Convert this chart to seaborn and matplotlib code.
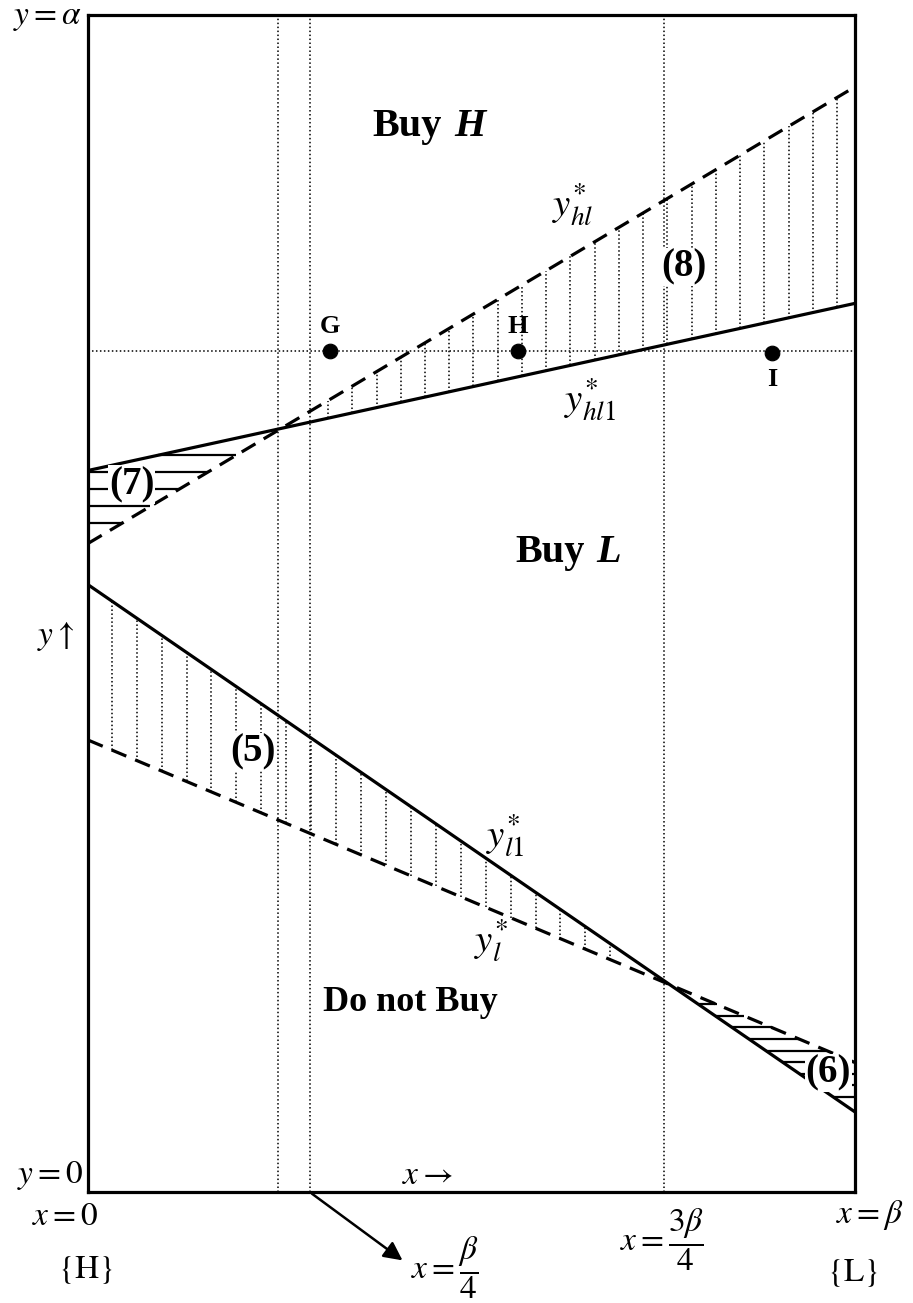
import numpy as np
import pandas as pd
import matplotlib
matplotlib.use("Agg")
import matplotlib.pyplot as plt
import seaborn as sns

# Boundary lines, given by their values at x = 0 and x = beta (unit scale)
x_ends = [0.0, 1.0]
y_hl_star = [0.551, 0.939]    # dashed, rising
y_hl1_star = [0.613, 0.755]   # solid, rising
y_l1_star = [0.516, 0.068]    # solid, falling
y_l_star = [0.384, 0.110]     # dashed, falling

# Dotted guides
guide_x = [0.248, 0.289, 0.751]
guide_y = 0.7145

# Marked points
point_names = ["G", "H", "I"]
point_x = [0.316, 0.561, 0.892]
point_y = [0.7145, 0.7145, 0.713]

sns.set_theme(style="white")
plt.rcParams["font.family"] = ["Liberation Serif", "DejaVu Serif"]
plt.rcParams["mathtext.fontset"] = "stix"
plt.rcParams["text.color"] = "black"

fig = plt.figure(figsize=(9.13, 13.03), dpi=100)
ax = fig.add_axes([88 / 913, 1 - 1192 / 1303, 767 / 913, 1177 / 1303])
ax.set_xlim(0, 1)
ax.set_ylim(0, 1)
for s in ax.spines.values():
    s.set_color("black")
    s.set_linewidth(2.3)
    s.set_zorder(6)

dotted = (0, (1, 1.6))

# Dotted guide lines
for gx in guide_x:
    ax.axvline(gx, color="black", lw=1.1, ls=dotted, zorder=1)
ax.axhline(guide_y, color="black", lw=1.1, ls=dotted, zorder=1)

lines = pd.DataFrame({
    "x": x_ends * 4,
    "y": y_hl_star + y_hl1_star + y_l1_star + y_l_star,
    "curve": ["hl"] * 2 + ["hl1"] * 2 + ["l1"] * 2 + ["l"] * 2,
})
sns.lineplot(data=lines, x="x", y="y", hue="curve", style="curve",
             palette=["black"] * 4,
             dashes={"hl": (5, 3), "hl1": "", "l1": "", "l": (5, 3)},
             lw=2.3, legend=False, ax=ax, zorder=4)


def f(vals, x):
    return np.interp(x, x_ends, vals)


# Region (5): vertical dotted hatching between y_l* and y_l1*
xs5 = np.arange(0.031, 0.70, 0.0325)
ax.vlines(xs5, f(y_l_star, xs5), f(y_l1_star, xs5), color="black",
          lw=1.1, ls=dotted, zorder=2)

# Region (8): vertical dotted hatching between y_hl1* and y_hl*
xs8 = np.arange(0.313, 0.995, 0.0316)
ax.vlines(xs8, f(y_hl1_star, xs8), f(y_hl_star, xs8), color="black",
          lw=1.1, ls=dotted, zorder=2)

# Region (7): horizontal hatching between y_hl* (below) and y_hl1* (above)
sl_hl = y_hl_star[1] - y_hl_star[0]
sl_hl1 = y_hl1_star[1] - y_hl1_star[0]
for h in np.arange(0.568, 0.64, 0.0145):
    x0 = max(0.0, (h - y_hl1_star[0]) / sl_hl1)
    x1 = (h - y_hl_star[0]) / sl_hl
    ax.hlines(h, x0, x1, color="black", lw=1.6, zorder=2)

# Region (6): horizontal hatching between y_l1* (below) and y_l* (above)
sl_l = y_l_star[1] - y_l_star[0]
sl_l1 = y_l1_star[1] - y_l1_star[0]
for h in np.arange(0.081, 0.168, 0.0098):
    x0 = (h - y_l1_star[0]) / sl_l1
    x1 = min(1.0, (h - y_l_star[0]) / sl_l)
    ax.hlines(h, x0, x1, color="black", lw=1.6, zorder=2)

# Points
pts = pd.DataFrame({"x": point_x, "y": point_y, "name": point_names})
sns.scatterplot(data=pts, x="x", y="y", color="black", s=110,
                edgecolor="black", ax=ax, zorder=5, legend=False)
ax.set_xlabel("")
ax.set_ylabel("")
ax.set_xticks([])
ax.set_yticks([])
for nm, px, py, dy in zip(point_names, point_x, point_y, [0.021, 0.021, -0.023]):
    ax.text(px, py + dy, nm, ha="center", va="center", fontsize=19,
            fontweight="bold")

white = dict(facecolor="white", edgecolor="none", pad=0.5)

# Region names
ax.text((372 - 88) / 767, 0.905, "Buy", ha="left", va="center", fontsize=29,
        fontweight="bold")
ax.text((454 - 88) / 767, 0.905, "H", ha="left", va="center", fontsize=29,
        fontweight="bold", fontstyle="italic")
ax.text((515 - 88) / 767, 0.543, "Buy", ha="left", va="center", fontsize=29,
        fontweight="bold")
ax.text((596 - 88) / 767, 0.543, "L", ha="left", va="center", fontsize=29,
        fontweight="bold", fontstyle="italic")
ax.text(0.420, 0.1606, "Do not Buy", ha="center", va="center", fontsize=26,
        fontweight="bold")

# Numbered regions
for lbl, lx, ly in [("(5)", 0.215, 0.374), ("(6)", 0.965, 0.101),
                    ("(7)", 0.057, 0.601), ("(8)", 0.777, 0.786)]:
    ax.text(lx, ly, lbl, ha="center", va="center", fontsize=28,
            fontweight="bold", bbox=white, zorder=7)

# Curve names
ax.text(0.632, 0.8386, r"$y^{*}_{hl}$", ha="center", va="center", fontsize=28)
ax.text(0.654, 0.673, r"$y^{*}_{hl1}$", ha="center", va="center", fontsize=28)
ax.text(0.544, 0.303, r"$y^{*}_{l1}$", ha="center", va="center", fontsize=28)
ax.text(0.525, 0.214, r"$y^{*}_{l}$", ha="center", va="center", fontsize=28)

# Edge labels
kw = dict(fontsize=24, clip_on=False)
ax.text((81 - 88) / 767, (1192 - 18) / 1177, r"$y=\alpha$", ha="right",
        va="center", **kw)
ax.text((83 - 88) / 767, (1192 - 1175) / 1177, r"$y=0$", ha="right",
        va="center", **kw)
ax.text(-0.030, -0.0212, r"$x=0$", ha="center", va="center", **kw)
ax.text(-0.0039, -0.0663, r"$\{\mathrm{H}\}$", ha="center", va="center", **kw)
ax.text(0.443, 0.0136, r"$x\rightarrow$", ha="center", va="center", **kw)
ax.text(-0.042, 0.472, r"$y\uparrow$", ha="center", va="center", **kw)
ax.text(0.465, -0.0646, r"$x=\dfrac{\beta}{4}$", ha="center", va="center", **kw)
ax.text(0.748, -0.0408, r"$x=\dfrac{3\beta}{4}$", ha="center", va="center", **kw)
ax.text(1.019, -0.0195, r"$x=\beta$", ha="center", va="center", **kw)
ax.text(0.997, -0.0688, r"$\{\mathrm{L}\}$", ha="center", va="center", **kw)

ax.annotate("", xy=(0.413, -0.0595), xytext=(0.289, 0.0),
            arrowprops=dict(arrowstyle="-|>", color="black", lw=1.8,
                            mutation_scale=28),
            annotation_clip=False)

fig.savefig("out.png", dpi=100, facecolor="white")
